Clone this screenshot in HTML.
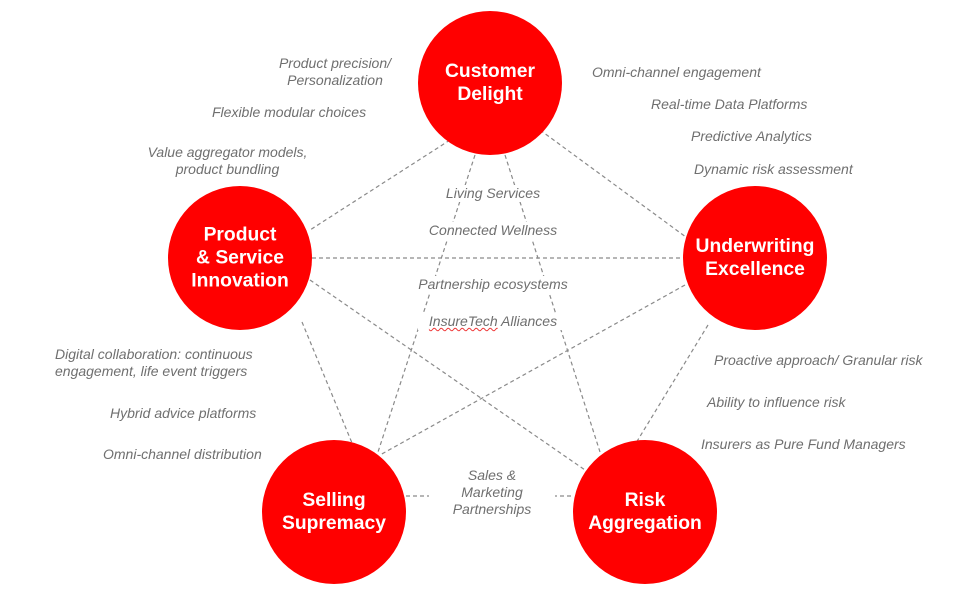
<!DOCTYPE html>
<html><head><style>
body{margin:0;width:975px;height:603px;background:#fff;overflow:hidden;position:relative;font-family:"Liberation Sans",sans-serif}
.t{position:absolute;font-style:italic;color:#6f6f6f;font-size:14px;line-height:17px;white-space:nowrap}
.c{text-align:center}
.w{background:#fff;padding:0 3px}
.n{position:absolute;color:#fff;font-weight:bold;font-size:19.3px;line-height:23px;text-align:center;transform:translate(-50%,-50%);white-space:nowrap}
</style></head><body>
<svg width="975" height="603" style="position:absolute;left:0;top:0">
<g stroke="#8a8a8a" stroke-width="1.2" stroke-dasharray="4,3" fill="none">
<line x1="450" y1="140" x2="310" y2="230"/>
<line x1="540" y1="130" x2="690" y2="240"/>
<line x1="312" y1="258" x2="683" y2="258"/>
<line x1="475" y1="155" x2="378" y2="452"/>
<line x1="505" y1="155" x2="600" y2="452"/>
<line x1="310" y1="280" x2="585" y2="470"/>
<line x1="685" y1="285" x2="380" y2="455"/>
<line x1="302" y1="322" x2="352" y2="443"/>
<line x1="708" y1="325" x2="636" y2="443"/>
<line x1="406" y1="496" x2="573" y2="496"/>
</g>
<g fill="#ff0000">
<circle cx="490" cy="83" r="72"/>
<circle cx="240" cy="258" r="72"/>
<circle cx="755" cy="258" r="72"/>
<circle cx="334" cy="512" r="72"/>
<circle cx="645" cy="512" r="72"/>
</g>
</svg>
<div class="n" style="left:490px;top:83px">Customer<br>Delight</div>
<div class="n" style="left:240px;top:258px">Product<br>&amp; Service<br>Innovation</div>
<div class="n" style="left:755px;top:258px">Underwriting<br>Excellence</div>
<div class="n" style="left:334px;top:512px">Selling<br>Supremacy</div>
<div class="n" style="left:645px;top:512px">Risk<br>Aggregation</div>

<div class="t c" style="left:265px;top:55px;width:140px">Product precision/<br>Personalization</div>
<div class="t" style="left:212px;top:104px">Flexible modular choices</div>
<div class="t c" style="left:135px;top:144px;width:185px">Value aggregator models,<br>product bundling</div>
<div class="t" style="left:592px;top:64px">Omni-channel engagement</div>
<div class="t" style="left:651px;top:96px">Real-time Data Platforms</div>
<div class="t" style="left:691px;top:128px">Predictive Analytics</div>
<div class="t" style="left:694px;top:161px">Dynamic risk assessment</div>
<div class="t c w" style="left:432px;top:185px;width:116px">Living Services</div>
<div class="t c w" style="left:418px;top:222px;width:144px">Connected Wellness</div>
<div class="t c w" style="left:408px;top:276px;width:164px">Partnership ecosystems</div>
<div class="t c w" style="left:418px;top:313px;width:144px"><span style="text-decoration:underline wavy #e33;text-decoration-thickness:1px">InsureTech</span> Alliances</div>
<div class="t" style="left:55px;top:346px">Digital collaboration: continuous<br>engagement, life event triggers</div>
<div class="t" style="left:110px;top:405px">Hybrid advice platforms</div>
<div class="t" style="left:103px;top:446px">Omni-channel distribution</div>
<div class="t" style="left:714px;top:352px">Proactive approach/ Granular risk</div>
<div class="t" style="left:707px;top:394px">Ability to influence risk</div>
<div class="t" style="left:701px;top:436px">Insurers as Pure Fund Managers</div>
<div class="t c w" style="left:429px;top:467px;width:120px">Sales &amp;<br>Marketing<br>Partnerships</div>
</body></html>
